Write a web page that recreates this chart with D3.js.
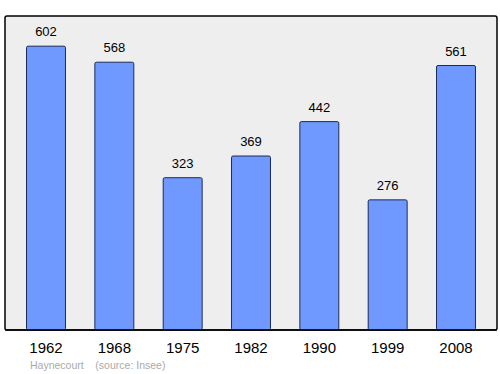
<!DOCTYPE html>
<html><head><meta charset="utf-8">
<script src="https://cdn.jsdelivr.net/npm/d3@7"></script>
<style>body{margin:0;background:#fff}svg{display:block;font-family:"Liberation Sans",Arial,sans-serif}</style>
</head><body>
<svg id="c" width="500" height="374"></svg>
<script>
const years = ["1962","1968","1975","1982","1990","1999","2008"];
const population = [602,568,323,369,442,276,561];
const footer = "Haynecourt    (source: Insee)";

(function(){
const svg = d3.select("#c");
const pL = 5, pR = 497, pT = 16, pB = 330;
svg.append("rect").attr("x",pL).attr("y",pT).attr("width",pR-pL).attr("height",pB-pT)
  .attr("rx",2).attr("fill","#eeeeee").attr("stroke","#000").attr("stroke-width",1.5);

const x = d3.scaleBand().domain(years).range([pL,pR]).paddingInner(0.43).paddingOuter(0.315);
const y = d3.scaleLinear().domain([0,666]).range([pB,pT]);

svg.selectAll("rect.bar").data(years).join("rect").attr("class","bar")
  .attr("x",d=>x(d)).attr("width",x.bandwidth())
  .attr("y",(d,i)=>y(population[i])).attr("height",(d,i)=>pB-y(population[i]))
  .attr("rx",1.5)
  .attr("fill","#7099ff").attr("stroke","#1a2a5a").attr("stroke-width",1);

svg.selectAll("text.val").data(years).join("text").attr("class","val")
  .attr("x",d=>x(d)+x.bandwidth()/2).attr("y",(d,i)=>y(population[i])-10)
  .attr("text-anchor","middle").attr("font-size",13).attr("fill","#000")
  .text((d,i)=>population[i]);

svg.append("line").attr("x1",pL).attr("x2",pR).attr("y1",pB).attr("y2",pB)
  .attr("stroke","#000").attr("stroke-width",1.5);

svg.selectAll("text.yr").data(years).join("text").attr("class","yr")
  .attr("x",d=>x(d)+x.bandwidth()/2).attr("y",353)
  .attr("text-anchor","middle").attr("font-size",15).attr("fill","#000")
  .text(d=>d);

svg.append("text").attr("x",30).attr("y",369).attr("font-size",10.5).attr("fill","#aaaaaa")
  .style("white-space","pre").text(footer);
})();
</script>
</body></html>
